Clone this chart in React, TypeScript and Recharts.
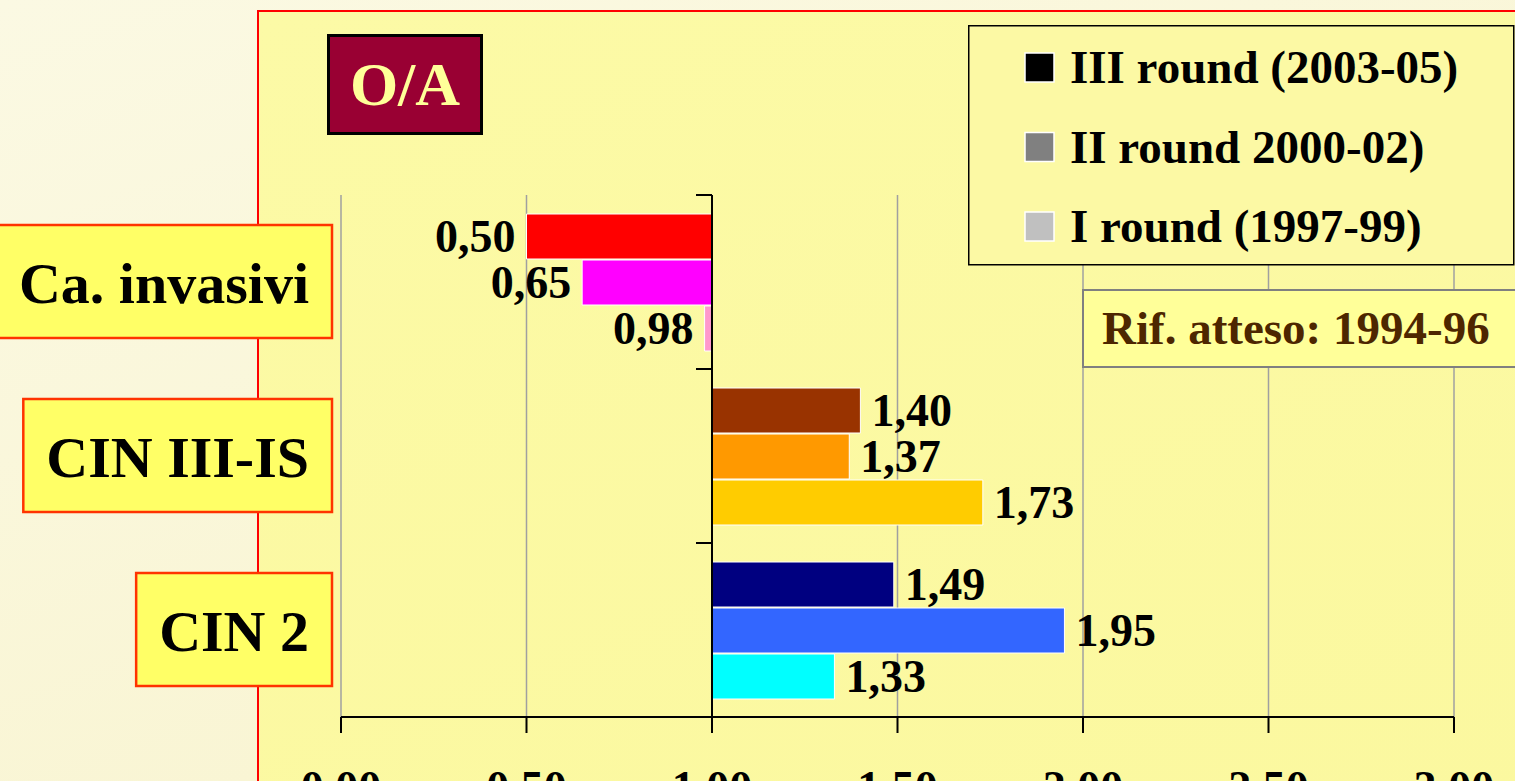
import React from 'react'
import {
  BarChart,
  Bar,
  XAxis,
  YAxis,
  CartesianGrid,
  ReferenceLine,
  LabelList,
  Cell
} from 'recharts'

const FONT = "'Liberation Serif', 'Times New Roman', serif"

// categorie (dall'alto in basso)
const categories = ['Ca. invasivi', 'CIN III-IS', 'CIN 2']

// rapporto O/A per round di screening
const round3 = [0.5, 1.4, 1.49]
const round2 = [0.65, 1.37, 1.95]
const round1 = [0.98, 1.73, 1.33]

const baseline = 1
const xTicks = [0, 0.5, 1, 1.5, 2, 2.5, 3]

const seriesNames = ['III round (2003-05)', 'II round 2000-02)', 'I round (1997-99)']
const legendColors = ['#000000', '#808080', '#C0C0C0']

// colori delle barre per categoria: [III, II, I]
const barColors = [
  ['#FF0000', '#FF00FF', '#FF99CC'],
  ['#993300', '#FF9900', '#FFCC00'],
  ['#000080', '#3366FF', '#00FFFF']
]

const rounds = [round3, round2, round1]

const rows = categories.map((name, i) => {
  const row: any = { name }
  rounds.forEach((r, s) => {
    row[`v${s}`] = r[i]
    row[`r${s}`] = [Math.min(baseline, r[i]), Math.max(baseline, r[i])]
  })
  return row
})

const fmt = (v: number) => v.toFixed(2).replace('.', ',')

let ctx: CanvasRenderingContext2D | null = null
const measure = (s: string, font: string) => {
  if (!ctx) ctx = document.createElement('canvas').getContext('2d')
  if (!ctx) return s.length * 28
  ctx.font = font
  return ctx.measureText(s).width
}

const ValueLabel = (props: any) => {
  const vb = props.viewBox || props
  const x = props.x ?? vb.x
  const y = props.y ?? vb.y
  const width = props.width ?? vb.width
  const height = props.height ?? vb.height
  const value = Number(props.value)
  const below = value < baseline
  const tx = below ? x - 11 : x + width + 11
  return (
    <text
      x={tx}
      y={y + height / 2 + 15}
      textAnchor={below ? 'end' : 'start'}
      fontFamily={FONT}
      fontWeight="bold"
      fontSize={46}
      fill="#000"
    >
      {fmt(value)}
    </text>
  )
}

const CategoryTick = ({ x, y, payload }: any) => {
  const label = String(payload.value)
  const w = measure(label, `bold 58px ${FONT}`)
  const boxW = w + 46
  return (
    <g>
      <rect
        x={x - boxW}
        y={y - 57}
        width={boxW}
        height={113}
        fill="#FFFF66"
        stroke="#FF3300"
        strokeWidth={2.5}
      />
      <text
        x={x - 23}
        y={y + 21}
        textAnchor="end"
        fontFamily={FONT}
        fontWeight="bold"
        fontSize={58}
        fill="#000"
      >
        {label}
      </text>
    </g>
  )
}

// asse verticale a 1,00 con le tacche fra le categorie
const BaseAxis = (props: any) => {
  const { x1, x2 } = props
  const top = Math.min(props.y1, props.y2)
  const bottom = Math.max(props.y1, props.y2)
  const band = (bottom - top) / categories.length
  return (
    <g>
      <line x1={x1} y1={top} x2={x2} y2={bottom} stroke="#000" strokeWidth={2} />
      {categories.map((c, k) => (
        <line
          key={c}
          x1={x1 - 16}
          x2={x1}
          y1={top + k * band}
          y2={top + k * band}
          stroke="#000"
          strokeWidth={2}
        />
      ))}
    </g>
  )
}

const LegendBox = () => (
  <svg width={547} height={241} style={{ position: 'absolute', left: 968, top: 25 }}>
    <rect x={0.75} y={0.75} width={545} height={239} fill="#FCF9A4" stroke="#000" strokeWidth={1.5} />
    {seriesNames.map((n, i) => (
      <g key={n}>
        <rect
          x={57}
          y={28 + i * 79.5}
          width={29}
          height={29}
          fill={legendColors[i]}
          stroke="#fff"
          strokeWidth={1.5}
        />
        <text x={102} y={58 + i * 79.5} fontFamily={FONT} fontWeight="bold" fontSize={47} fill="#000">
          {n}
        </text>
      </g>
    ))}
  </svg>
)

export default function App() {
  return (
    <div
      style={{
        position: 'fixed',
        left: 0,
        top: 0,
        width: 1515,
        height: 781,
        overflow: 'hidden',
        background: 'linear-gradient(160deg, #FBF9E3 0%, #F8F3CC 100%)',
        fontFamily: FONT
      }}
    >
      <div
        style={{
          position: 'absolute',
          left: 257,
          top: 10,
          width: 1300,
          height: 800,
          border: '2px solid #FF0000',
          background: 'linear-gradient(160deg, #FCFAA6 0%, #FBF89F 100%)'
        }}
      />
      <div style={{ position: 'absolute', left: 0, top: 0 }}>
        <BarChart
          width={1515}
          height={781}
          data={rows}
          layout="vertical"
          margin={{ top: 195, right: 61, bottom: 0, left: 0 }}
          barGap={1}
          barCategoryGap={18}
        >
          <CartesianGrid horizontal={false} stroke="#A0A0A0" strokeWidth={1.5} />
          <XAxis
            type="number"
            domain={[0, 3]}
            ticks={xTicks}
            height={64}
            tickFormatter={fmt}
            axisLine={{ stroke: '#000', strokeWidth: 2 }}
            tickLine={{ stroke: '#000', strokeWidth: 2 }}
            tickSize={16}
            tickMargin={37}
            tick={{ fill: '#000', fontFamily: FONT, fontWeight: 'bold', fontSize: 46 }}
          />
          <YAxis
            type="category"
            dataKey="name"
            width={341}
            axisLine={false}
            tickLine={false}
            tickSize={0}
            tickMargin={9}
            tick={<CategoryTick />}
          />
          {seriesNames.map((n, s) => (
            <Bar
              key={n}
              dataKey={`r${s}`}
              name={n}
              fill={legendColors[s]}
              stroke="#FFFFFF"
              strokeWidth={1}
              barSize={45}
              isAnimationActive={false}
            >
              {rows.map((r, i) => (
                <Cell key={r.name} fill={barColors[i][s]} />
              ))}
              <LabelList dataKey={`v${s}`} content={ValueLabel} />
            </Bar>
          ))}
          <ReferenceLine x={baseline} shape={BaseAxis} />
        </BarChart>
      </div>
      <LegendBox />
      <div
        style={{
          position: 'absolute',
          left: 327,
          top: 34,
          width: 156,
          height: 101,
          boxSizing: 'border-box',
          border: '3px solid #000',
          background: '#990033',
          color: '#FFFF99',
          fontWeight: 'bold',
          fontSize: 62,
          lineHeight: '95px',
          textAlign: 'center'
        }}
      >
        O/A
      </div>
      <div
        style={{
          position: 'absolute',
          left: 1082,
          top: 289,
          width: 440,
          height: 79,
          boxSizing: 'border-box',
          border: '2.5px solid #808080',
          background: '#FFFF99',
          color: '#4D2600',
          fontWeight: 'bold',
          fontSize: 47,
          lineHeight: '74px',
          paddingLeft: 18,
          whiteSpace: 'nowrap'
        }}
      >
        Rif. atteso: 1994-96
      </div>
    </div>
  )
}
